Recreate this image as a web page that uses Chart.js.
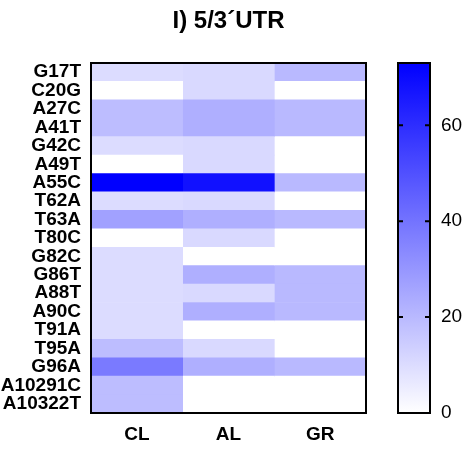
<!DOCTYPE html>
<html>
<head>
<meta charset="utf-8">
<script src="https://cdn.jsdelivr.net/npm/chart.js@4.4.0/dist/chart.umd.min.js"></script>
<style>
    body { margin: 0; background: #fff; }
    #wrap { position: relative; width: 472px; height: 451px; }
    #heatmap { position: absolute; left: 0; top: 0; }
    #colorbar { position: absolute; left: 390px; top: 0; }
</style>
</head>
<body>
<div id="wrap">
    <canvas id="heatmap" width="457" height="451"></canvas>
    <canvas id="colorbar" width="82" height="451"></canvas>
</div>
<script>
// Data
const mutations = ['G17T', 'C20G', 'A27C', 'A41T', 'G42C', 'A49T', 'A55C', 'T62A', 'T63A', 'T80C',
    'G82C', 'G86T', 'A88T', 'A90C', 'T91A', 'T95A', 'G96A', 'A10291C', 'A10322T'];
const groups = ['CL', 'AL', 'GR'];
const clValues = [10, 0, 19, 19, 10, 0, 73, 10, 27, 0, 10, 10, 10, 10, 10, 19, 38, 19, 19];
const alValues = [11, 11, 23, 23, 11, 11, 68, 11, 23, 11, 0, 23, 11, 23, 0, 11, 23, 0, 0];
const grValues = [20, 0, 20, 20, 0, 0, 20, 0, 20, 0, 0, 20, 20, 20, 0, 0, 20, 0, 0];
const colorbarTicks = [0, 20, 40, 60];
const colorbarMax = 73;

const groupValues = [clValues, alValues, grValues];

Chart.defaults.font.family = 'Arial, "Liberation Sans", sans-serif';
Chart.defaults.color = '#000';

// white -> pure blue
function colorFor(v) {
    const t = Math.max(0, Math.min(1, v / colorbarMax));
    const c = Math.round(255 * (1 - t));
    return 'rgb(' + c + ',' + c + ',255)';
}

// black box round the plot area
const frame = {
    id: 'frame',
    afterDatasetsDraw(chart) {
        const { ctx, chartArea: a } = chart;
        ctx.save();
        ctx.strokeStyle = '#000';
        ctx.lineWidth = 2;
        ctx.strokeRect(a.left, a.top, a.right - a.left, a.bottom - a.top);
        ctx.restore();
    }
};

// Heatmap (floating horizontal bars, one dataset per group)
new Chart(document.getElementById('heatmap'), {
    type: 'bar',
    data: {
        labels: mutations,
        datasets: groups.map(function(g, gi) {
            return {
                label: g,
                data: groupValues[gi].map(function() { return [gi, gi + 1]; }),
                backgroundColor: function(ctx) {
                    return colorFor(groupValues[ctx.datasetIndex][ctx.dataIndex]);
                },
                borderWidth: 0,
                grouped: false,
                barPercentage: 1,
                categoryPercentage: 1
            };
        })
    },
    options: {
        indexAxis: 'y',
        responsive: false,
        animation: false,
        layout: { padding: 0 },
        plugins: {
            legend: { display: false },
            tooltip: { enabled: false },
            title: {
                display: true,
                text: 'I) 5/3´UTR',
                color: '#000',
                font: { size: 24, weight: 'bold' },
                padding: { top: 7, bottom: 27.2 }
            }
        },
        scales: {
            x: {
                type: 'linear',
                min: 0,
                max: groups.length,
                grid: { display: false, drawTicks: false },
                border: { display: false },
                afterBuildTicks: function(scale) {
                    scale.ticks = groups.map(function(g, i) { return { value: i + 0.5 }; });
                },
                afterFit: function(scale) { scale.height = 38; },
                ticks: {
                    padding: 10,
                    font: { size: 19, weight: 'bold' },
                    maxRotation: 0,
                    callback: function(value, index) { return groups[index]; }
                }
            },
            y: {
                grid: { display: false, drawTicks: false },
                border: { display: false },
                afterFit: function(scale) { scale.width = 91; },
                ticks: {
                    autoSkip: false,
                    padding: 10,
                    font: { size: 19, weight: 'bold' }
                }
            },
            // empty right axis, keeps room for the colour bar so the title centres over the plot
            yRight: {
                type: 'category',
                position: 'right',
                grid: { display: false, drawTicks: false },
                border: { display: false },
                ticks: { display: false },
                afterFit: function(scale) { scale.width = 91; }
            }
        }
    },
    plugins: [frame]
});

// inward tick marks on both sides of the colour bar
const barTicks = {
    id: 'barTicks',
    afterDatasetsDraw(chart) {
        const { ctx, chartArea: a } = chart;
        const y = chart.scales.y;
        ctx.save();
        ctx.strokeStyle = '#000';
        ctx.lineWidth = 2;
        colorbarTicks.forEach(function(v) {
            if (v === 0) return;
            const py = y.getPixelForValue(v);
            ctx.beginPath();
            ctx.moveTo(a.left, py); ctx.lineTo(a.left + 5, py);
            ctx.moveTo(a.right - 5, py); ctx.lineTo(a.right, py);
            ctx.stroke();
        });
        ctx.restore();
    }
};

// Colour bar
new Chart(document.getElementById('colorbar'), {
    type: 'bar',
    data: {
        labels: [''],
        datasets: [{
            data: [[0, colorbarMax]],
            backgroundColor: function(ctx) {
                const chart = ctx.chart;
                if (!chart.chartArea) return colorFor(colorbarMax);
                const y = chart.scales.y;
                const g = chart.ctx.createLinearGradient(0, y.getPixelForValue(0), 0, y.getPixelForValue(colorbarMax));
                g.addColorStop(0, colorFor(0));
                g.addColorStop(1, colorFor(colorbarMax));
                return g;
            },
            borderWidth: 0,
            barPercentage: 1,
            categoryPercentage: 1
        }]
    },
    options: {
        responsive: false,
        animation: false,
        layout: { padding: { top: 63, right: 0, bottom: 38, left: 8 } },
        plugins: {
            legend: { display: false },
            tooltip: { enabled: false }
        },
        scales: {
            x: { display: false },
            y: {
                position: 'right',
                min: 0,
                max: colorbarMax,
                grid: { display: false, drawTicks: false },
                border: { display: false },
                afterBuildTicks: function(scale) {
                    scale.ticks = colorbarTicks.map(function(v) { return { value: v }; });
                },
                afterFit: function(scale) { scale.width = 42; },
                ticks: {
                    padding: 11,
                    font: { size: 19 }
                }
            }
        }
    },
    plugins: [frame, barTicks]
});
</script>
</body>
</html>
